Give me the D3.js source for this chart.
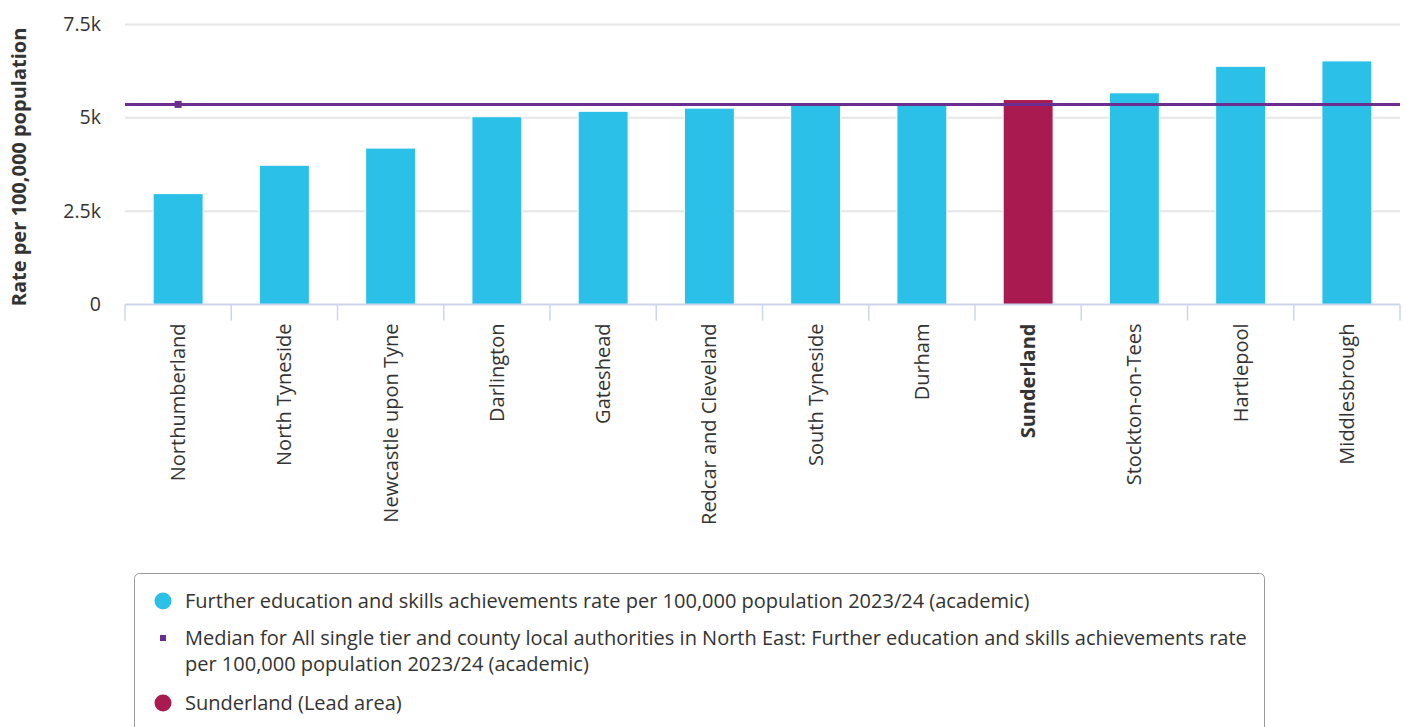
<!DOCTYPE html>
<html><head><meta charset="utf-8">
<script src="https://cdn.jsdelivr.net/npm/d3@7"></script>
<style>body{margin:0;background:#fff;font-family:"Open Sans",sans-serif;}</style>
</head><body><svg id="c" width="1407" height="727"></svg>
<script>
const categories = ["Northumberland","North Tyneside","Newcastle upon Tyne","Darlington","Gateshead","Redcar and Cleveland","South Tyneside","Durham","Sunderland","Stockton-on-Tees","Hartlepool","Middlesbrough"];
const values = [2970, 3730, 4190, 5030, 5175, 5260, 5380, 5390, 5490, 5670, 6380, 6525];
const leadArea = "Sunderland";
const medianValue = 5360;
const yTicks = [0, 2500, 5000, 7500];
const yTickLabels = ["0", "2.5k", "5k", "7.5k"];
const legendItems = [
  "Further education and skills achievements rate per 100,000 population 2023/24 (academic)",
  "Median for All single tier and county local authorities in North East: Further education and skills achievements rate per 100,000 population 2023/24 (academic)",
  "Sunderland (Lead area)"
];

const svg = d3.select("#c");
const pLeft = 125, pRight = 1400, pTop = 24.5, pBottom = 304.5;
const x = d3.scaleBand().domain(categories).range([pLeft, pRight]).paddingInner(0.53).paddingOuter(0.265);
const y = d3.scaleLinear().domain([0, 7500]).range([pBottom, pTop]);

// gridlines
svg.append("g").selectAll("line").data(yTicks.slice(1)).join("line")
  .attr("x1", pLeft).attr("x2", pRight).attr("y1", d => y(d)).attr("y2", d => y(d))
  .attr("stroke", "#e6e6e6").attr("stroke-width", 2);

// y labels
svg.append("g").selectAll("text").data(yTicks).join("text")
  .attr("x", 101).attr("y", d => y(d) + 6.5).attr("text-anchor", "end")
  .attr("font-size", 19.5).attr("fill", "#333").text((d, i) => yTickLabels[i]);

// y title
svg.append("text").attr("transform", "translate(26,167) rotate(-90)").attr("text-anchor", "middle")
  .attr("font-size", 20).attr("font-weight", "bold").attr("fill", "#333").text("Rate per 100,000 population");

// bars
svg.append("g").selectAll("rect").data(categories).join("rect")
  .attr("x", d => x(d)).attr("width", x.bandwidth())
  .attr("y", (d, i) => y(values[i])).attr("height", (d, i) => pBottom - y(values[i]))
  .attr("fill", d => d === leadArea ? "#a91a51" : "#2bc0e8")
  .attr("stroke", "#fff").attr("stroke-width", 1);

// x axis
const xAxis = d3.axisBottom(x).tickSize(0).tickFormat("");
const ax = svg.append("g").attr("transform", `translate(0,${pBottom})`).call(xAxis);
ax.select(".domain").attr("stroke", "#ccd6eb").attr("stroke-width", 2).attr("d", `M${pLeft},0H${pRight}`);
const step = x.step();
svg.append("g").selectAll("line").data(d3.range(categories.length + 1)).join("line")
  .attr("x1", i => pLeft + i * step).attr("x2", i => pLeft + i * step)
  .attr("y1", pBottom).attr("y2", pBottom + 16).attr("stroke", "#ccd6eb").attr("stroke-width", 1.5);

svg.append("g").selectAll("text").data(categories).join("text")
  .attr("transform", d => `translate(${x(d) + x.bandwidth() / 2 + 7},${pBottom + 19}) rotate(-90)`)
  .attr("text-anchor", "end").attr("font-size", 20).attr("fill", "#333")
  .attr("font-weight", d => d === leadArea ? "bold" : "normal").text(d => d);

// median line
svg.append("line").attr("x1", pLeft).attr("x2", pRight).attr("y1", y(medianValue)).attr("y2", y(medianValue))
  .attr("stroke", "#6b2d8f").attr("stroke-width", 3);
svg.append("rect").attr("x", x(categories[0]) + x.bandwidth() / 2 - 3.5).attr("y", y(medianValue) - 3.5)
  .attr("width", 7).attr("height", 7).attr("fill", "#6b2d8f");

// legend
svg.append("rect").attr("x", 134.5).attr("y", 573.5).attr("width", 1130).attr("height", 200).attr("rx", 5)
  .attr("fill", "none").attr("stroke", "#999").attr("stroke-width", 1);
const lg = svg.append("g").attr("font-size", 20).attr("fill", "#333");
lg.append("circle").attr("cx", 163).attr("cy", 601).attr("r", 8.5).attr("fill", "#2bc0e8");
lg.append("text").attr("x", 185).attr("y", 608).text(legendItems[0]);
lg.append("rect").attr("x", 160).attr("y", 635).attr("width", 6).attr("height", 6).attr("fill", "#6b2d8f");
const words = legendItems[1].split(" ");
const cut = words.lastIndexOf("per");
lg.append("text").attr("x", 185).attr("y", 645).text(words.slice(0, cut).join(" "));
lg.append("text").attr("x", 185).attr("y", 671).text(words.slice(cut).join(" "));
lg.append("circle").attr("cx", 163).attr("cy", 703).attr("r", 8.5).attr("fill", "#a91a51");
lg.append("text").attr("x", 185).attr("y", 710).text(legendItems[2]);
</script></body></html>
